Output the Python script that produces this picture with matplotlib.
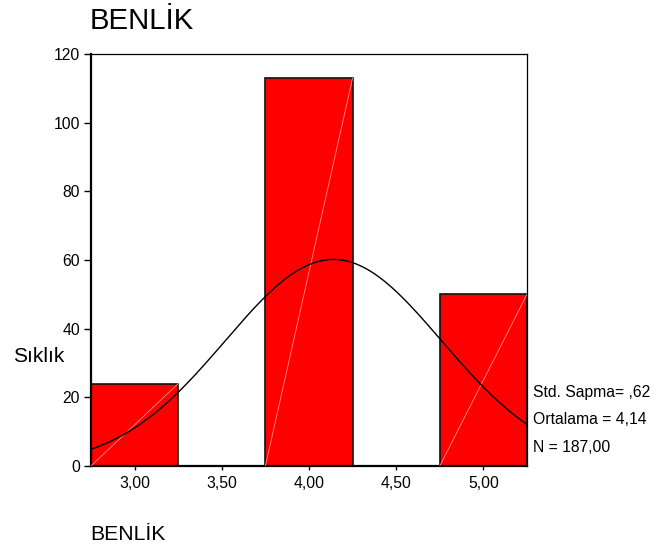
import numpy as np
import matplotlib
matplotlib.use("Agg")
import matplotlib.pyplot as plt

plt.rcParams['font.family'] = ['Liberation Sans', 'DejaVu Sans']

bin_centers = [3.0, 4.0, 5.0]
counts = [24, 113, 50]
bin_width = 0.5
mean = 4.14
std = 0.62
n = 187
xticks = [3.0, 3.5, 4.0, 4.5, 5.0]
xtick_labels = ["3,00", "3,50", "4,00", "4,50", "5,00"]
yticks = [0, 20, 40, 60, 80, 100, 120]
stats_lines = ["Std. Sapma= ,62", "Ortalama = 4,14", "N = 187,00"]

fig = plt.figure(figsize=(6.55, 5.52), dpi=100)
ax = fig.add_axes([91/655, 1-466/552, (527-91)/655, (466-54)/552])

ax.bar(bin_centers, counts, width=bin_width, color='#ff0000', edgecolor='#111111', linewidth=1.2, zorder=2)
for c, h in zip(bin_centers, counts):
    ax.plot([c - bin_width/2, c + bin_width/2], [0, h], color='#ff9090', linewidth=0.6, zorder=3)

xs = np.linspace(2.75, 5.25, 400)
ys = n * bin_width / (std * np.sqrt(2*np.pi)) * np.exp(-(xs - mean)**2 / (2*std**2))
ax.plot(xs, ys, color='black', linewidth=1.0, zorder=4)

ax.set_xlim(2.75, 5.25)
ax.set_ylim(0, 120)
ax.set_xticks(xticks)
ax.set_xticklabels(xtick_labels, fontsize=11.3)
ax.set_yticks(yticks)
ax.set_yticklabels([str(v) for v in yticks], fontsize=11.3)
ax.tick_params(axis='x', length=3, width=1, pad=4)
ax.tick_params(axis='y', length=5, width=1, pad=3)
for s in ['left', 'bottom']:
    ax.spines[s].set_linewidth(1.6)
for s in ['top', 'right']:
    ax.spines[s].set_linewidth(0.9)

fig.text(90/655, 1-29/552, "BENLİK", fontsize=21.2, ha='left', va='baseline')
fig.text(13/655, 1-357/552, "Sıklık", fontsize=15, ha='left', va='center')
fig.text(90/655, 1-535/552, "BENLİK", fontsize=15.2, ha='left', va='center')
for i, line in enumerate(stats_lines):
    fig.text(533/655, 1-(392 + i*27.5)/552, line, fontsize=11.3, ha='left', va='center')

fig.savefig("out.png", dpi=100)
